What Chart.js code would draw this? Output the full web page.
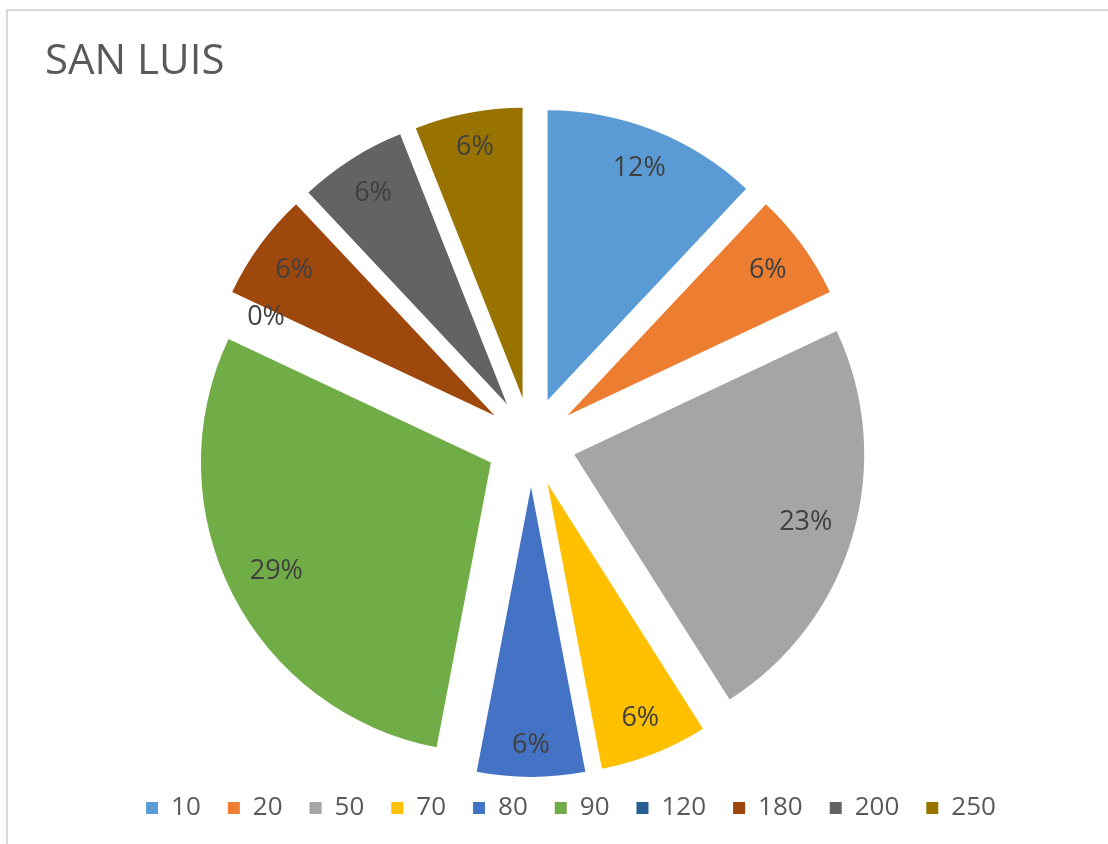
<!DOCTYPE html>
<html>
<head>
<meta charset="utf-8">
<title>SAN LUIS</title>
<script src="https://cdn.jsdelivr.net/npm/chart.js@4.4.1/dist/chart.umd.min.js"></script>
<style>
  html, body { margin: 0; padding: 0; background: #fff; }
  #wrap { position: relative; width: 1108px; height: 844px; overflow: hidden; }
  #marco { position: absolute; left: 6px; top: 9px; right: -4px; bottom: -4px;
           border-top: 2px solid #d9d9d9; border-left: 2px solid #d9d9d9; }
  #grafico { position: absolute; left: 0; top: 0; }
</style>
</head>
<body>
<div id="wrap">
  <div id="marco"></div>
  <canvas id="grafico" width="1108" height="844"></canvas>
</div>
<script>
// Datos
const categorias = ['10', '20', '50', '70', '80', '90', '120', '180', '200', '250'];
const porcentajes = [12, 6, 23, 6, 6, 29, 0, 6, 6, 6];
const colores = ['#5B9BD5', '#ED7D31', '#A5A5A5', '#FFC000', '#4472C4',
                 '#70AD47', '#255E91', '#9E480E', '#636363', '#997300'];
const titulo = 'SAN LUIS';

const EXPLOSION = 45;        // separación de cada porción respecto al centro
const DESPLAZAMIENTO_X = -40; // el pastel queda a la izquierda del centro de la leyenda

// Separa las porciones (igual para todas, como en Excel)
const explotarPorciones = {
    id: 'explotarPorciones',
    afterDatasetUpdate(chart, args) {
        args.meta.data.forEach(arc => {
            const mid = (arc.startAngle + arc.endAngle) / 2;
            arc.x += DESPLAZAMIENTO_X + Math.cos(mid) * EXPLOSION;
            arc.y += Math.sin(mid) * EXPLOSION;
        });
    }
};

// Etiquetas de porcentaje dentro de cada porción, cerca del borde
const etiquetas = {
    id: 'etiquetas',
    afterDatasetsDraw(chart) {
        const ctx = chart.ctx;
        const meta = chart.getDatasetMeta(0);
        const total = porcentajes.reduce((a, b) => a + b, 0);
        ctx.save();
        ctx.font = '27px "Open Sans"';
        ctx.fillStyle = '#404040';
        ctx.textAlign = 'center';
        ctx.textBaseline = 'middle';
        meta.data.forEach((arc, i) => {
            const txt = Math.round(porcentajes[i] / total * 100) + '%';
            const mid = (arc.startAngle + arc.endAngle) / 2;
            const w = ctx.measureText(txt).width;
            const alcance = Math.abs(Math.cos(mid)) * w / 2 + Math.abs(Math.sin(mid)) * 12;
            const d = arc.outerRadius - 20 - alcance;
            ctx.fillText(txt, arc.x + Math.cos(mid) * d, arc.y + Math.sin(mid) * d);
        });
        ctx.restore();
    }
};

new Chart(document.getElementById('grafico'), {
    type: 'pie',
    data: {
        labels: categorias,
        datasets: [{
            data: porcentajes,
            backgroundColor: colores,
            borderWidth: 0,
            radius: 290
        }]
    },
    options: {
        responsive: false,
        animation: false,
        events: [],
        layout: { padding: { left: 45, right: 11, top: 0, bottom: 13 } },
        plugins: {
            title: {
                display: true,
                text: titulo,
                align: 'start',
                color: '#595959',
                font: { family: 'Open Sans', size: 42, weight: 'normal' },
                padding: { top: 37, bottom: 28.6 }
            },
            legend: {
                position: 'bottom',
                labels: {
                    color: '#595959',
                    font: { family: 'Open Sans', size: 26 },
                    boxWidth: 12,
                    boxHeight: 12,
                    padding: 27
                }
            },
            tooltip: { enabled: false }
        }
    },
    plugins: [explotarPorciones, etiquetas]
});
</script>
</body>
</html>
